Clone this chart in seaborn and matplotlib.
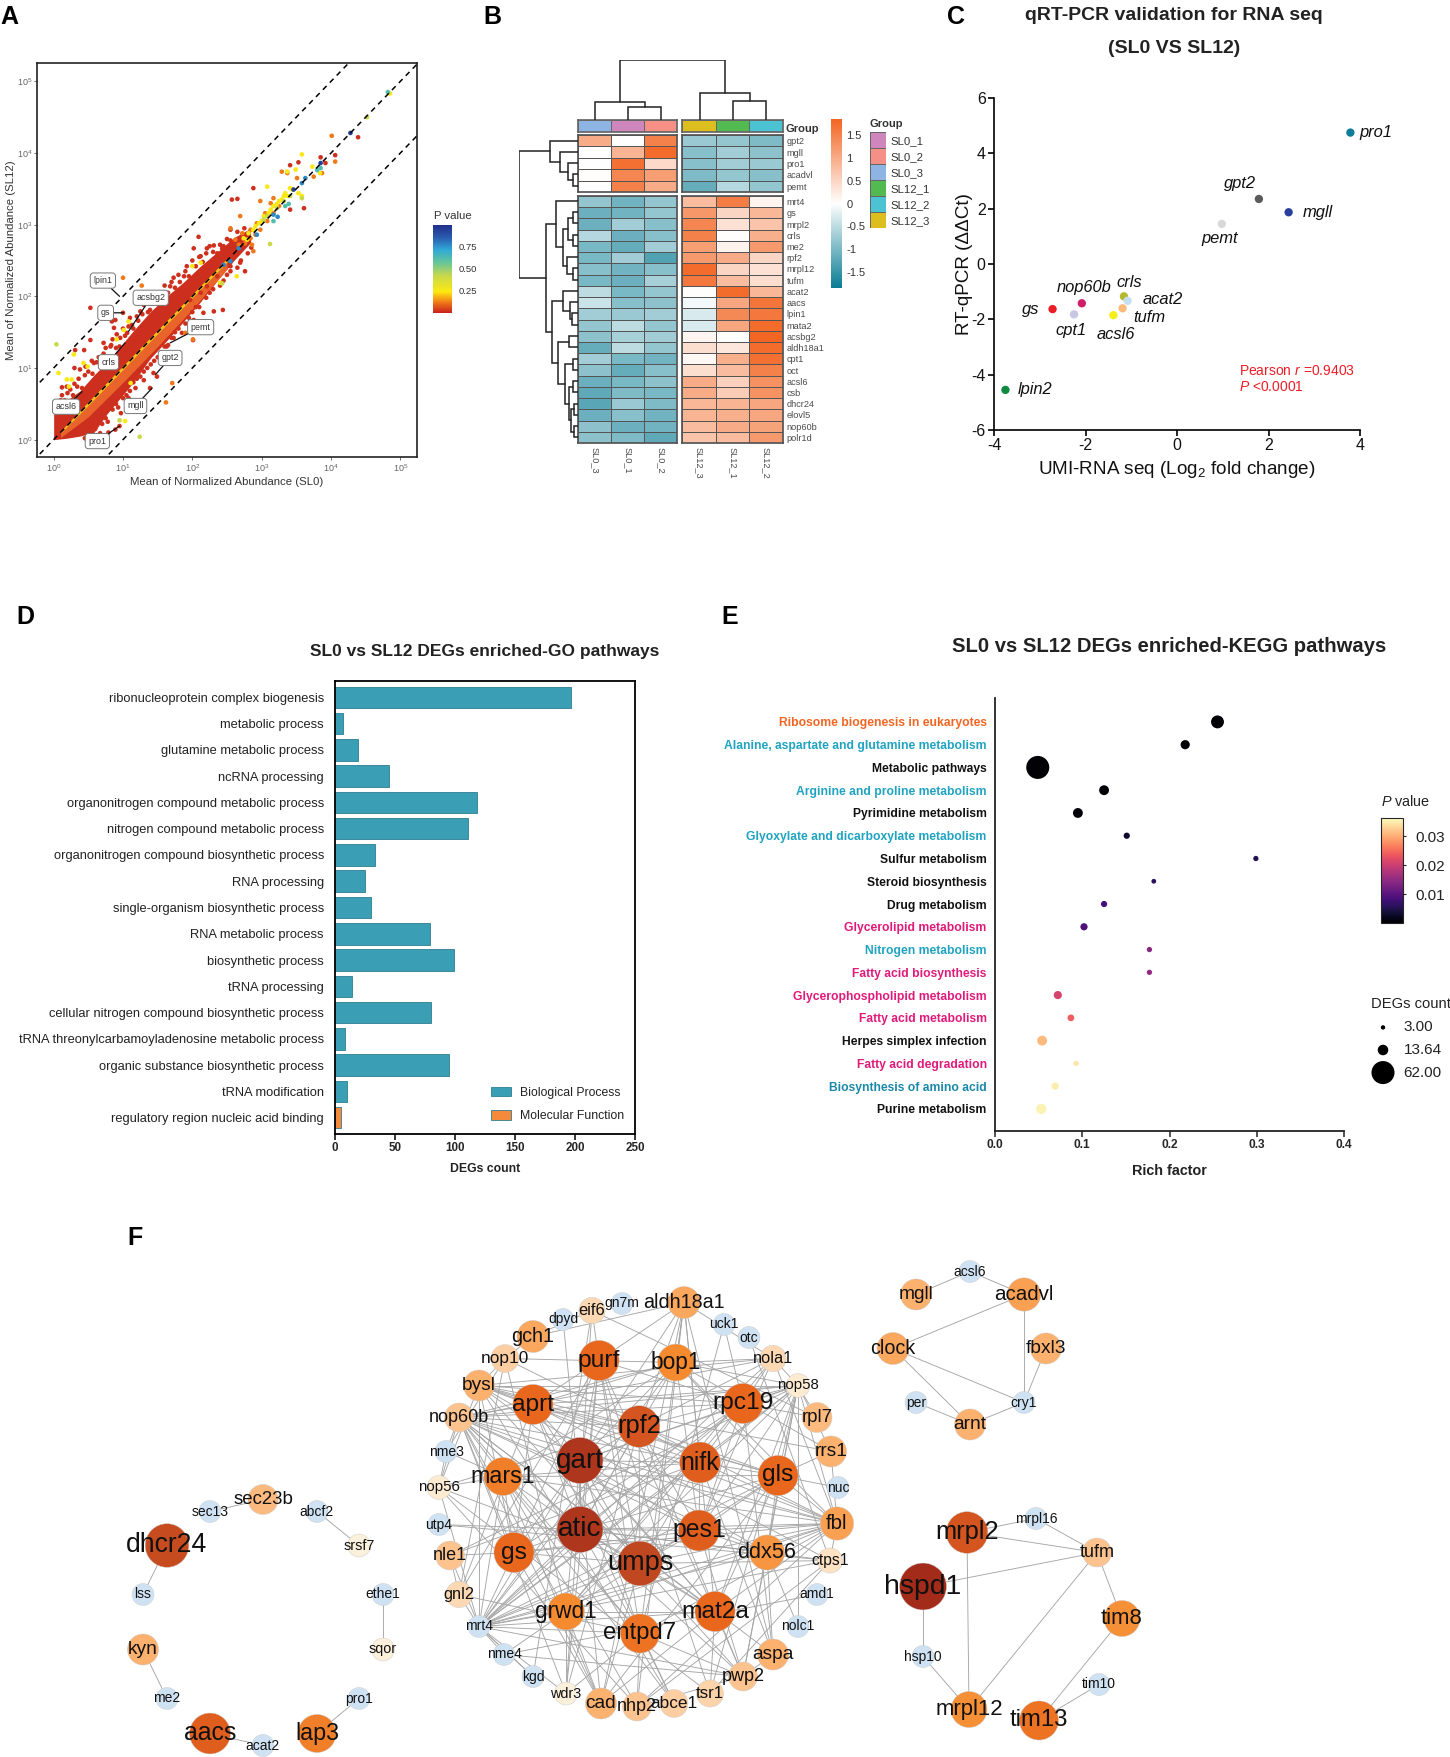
# 转录组多面板图 A-F
import numpy as np
import pandas as pd
import matplotlib
matplotlib.use('Agg')
import matplotlib.pyplot as plt
import seaborn as sns
from matplotlib.cm import ScalarMappable
from matplotlib.colors import LinearSegmentedColormap, ListedColormap, Normalize

sns.set_theme(style='white')
plt.rcParams['font.family'] = ['Liberation Sans', 'DejaVu Sans']
plt.rcParams['mathtext.fontset'] = 'custom'
plt.rcParams['mathtext.rm'] = 'Liberation Sans'
plt.rcParams['mathtext.it'] = 'Liberation Sans:italic'
plt.rcParams['axes.unicode_minus'] = False

W, H = 1450, 1757

# ---------- A: 丰度散点 (log10 值) ----------
red_lx = [.53, 1.00, .89, .84, .87, .91, .95, .82, .72, .53, .31, .44, .30, .38, .46, .19, .12, .34, .58, 1.06, 1.13,
          1.25, 1.39, 1.54, 1.59, 1.73, 1.68, 1.92, 2.02, 2.09, 2.12, 2.21, 2.31, 2.36, 2.43, 2.55, 2.88, 2.57, 2.65,
          3.41, 3.53, 3.85, 3.92, 4.06, 4.39, 3.61, 3.41, 2.16, 2.31, 2.44, 2.02, 2.01, 1.85, 1.73, 1.63, 1.49, 1.44,
          1.30, 1.18, 1.08, .97, .95, .67, .79, .89, 1.39, 2.60, 2.69, 2.76, 2.55, 2.36, 2.21, 2.12, 1.97,
          1.2, 1.35, 1.5, 1.6, 1.75, 1.95, 2.05, 2.25, 2.4, 2.5, 2.65, 2.8, .6, .75, .9, 1.05,
          .1, .2, .3, .45, .55, .65, .75, .85, 1.0, 1.1, 1.2, 1.3, 1.45, 1.6, 1.7, 1.8, 1.9, 2.0, 2.1, 2.25, 2.4, 2.5,
          2.65, 2.75,
          .05, .12, .16, .24, .28, .36, .41, .5, .56, .62, .68, .72, .8, .83, .9, .96, 1.03, 1.08, 1.15, 1.22, 1.28,
          1.36, 1.42, 1.5, 1.55, 1.65, 1.75, 1.82, 1.88, 1.95, 2.05, 2.15, 2.2, 2.3, 2.45, 2.55,
          .45, .55, .62, .7, .78, .85, .93, 1.0, 1.1, 1.15, 1.25, 1.3, 1.4, 1.45, 1.55, 1.65, 1.7, 1.8, 1.9, 2.0, 2.1,
          2.2, 2.3, 2.45, 2.55, 2.7, 2.85]
red_ly = [1.84, 1.77, 1.67, 1.65, 1.56, 1.47, 1.30, 1.30, 1.35, 1.39, 1.25, 1.25, 1.00, .98, 1.02, .74, .73, .74, 1.07,
          1.49, 1.60, 1.79, 1.81, 2.05, 2.05, 2.26, 2.14, 2.42, 2.67, 2.83, 2.56, 2.67, 2.71, 2.60, 2.67, 2.93, 3.51,
          3.35, 3.36, 3.83, 3.87, 3.94, 3.86, 3.97, 4.22, 3.23, 3.21, 1.77, 1.79, 1.81, 1.67, 1.39, 1.49, 1.42, 1.30,
          .88, .93, .83, .72, .58, .37, .19, .09, .10, .14, .72, 2.56, 2.47, 2.35, 2.42, 2.28, 2.14, 2.05, 1.95,
          .85, 1.0, 1.15, 1.3, 1.5, 1.7, 1.85, 2.05, 2.15, 2.3, 2.4, 2.6, .15, .3, .5, .62,
          .55, .65, .78, .9, 1.1, 1.15, 1.28, 1.4, 1.55, 1.7, 1.72, 1.88, 2.0, 2.15, 2.2, 2.3, 2.35, 2.5, 2.55, 2.7,
          2.72, 2.8, 2.9, 2.95,
          .5, .62, .55, .7, .62, .85, .72, .95, .92, 1.08, 1.02, 1.2, 1.15, 1.32, 1.28, 1.42, 1.45, 1.58, 1.55, 1.66,
          1.75, 1.78, 1.9, 1.9, 2.0, 2.05, 2.12, 2.2, 2.28, 2.28, 2.42, 2.48, 2.6, 2.62, 2.7, 2.78,
          .02, .12, .06, .22, .25, .42, .45, .58, .68, .8, .88, .95, 1.05, 1.1, 1.22, 1.32, 1.42, 1.55, 1.62, 1.78,
          1.85, 1.98, 2.1, 2.22, 2.35, 2.5, 2.68]
orange_lx = [1.0, 1.27, 4.01, 4.06, 1.71, 1.62, 2.01, 1.90, 2.98, 3.17, 2.69, 2.55, 2.88, 2.86, 3.75, 3.87, 3.51, 3.37,
             3.29, 2.67, 2.76, 2.84, 2.91, 2.98, 3.08, 3.17, 3.25, 3.13, 3.05, 2.93, 2.84, 2.72, 2.62]
orange_ly = [2.26, 2.15, 4.24, 3.88, .79, .52, 1.40, 1.49, 3.33, 3.37, 3.12, 2.95, 2.63, 2.72, 3.67, 3.72, 3.65, 3.72,
             3.74, 2.72, 2.74, 2.81, 2.86, 2.93, 3.05, 3.16, 3.26, 3.30, 3.16, 3.02, 2.93, 2.88, 2.79]
yellow_lx = [.19, .26, .07, .22, .43, .49, .91, 1.01, 1.08, 3.08, 3.58, 3.37, 3.49, 3.58, 3.53, 3.73, 3.84, 4.85, 2.12,
             2.40, 2.64, 2.00, 1.11, 1.03, .29, 2.74, 2.81, 2.88, 2.96, 3.03, 3.10, 3.17, 3.25, 3.32, 3.37, 3.44, 2.79,
             2.91, 3.0, 3.13, 3.22, 3.29, 3.34, 3.41]
yellow_ly = [.84, .84, .93, .74, 1.07, 1.02, 1.40, 1.53, 1.65, 3.53, 3.98, 3.74, 3.77, 3.40, 3.44, 3.81, 3.72, 4.83,
             2.47, 2.19, 2.28, 2.42, .79, .26, 1.19, 2.81, 2.88, 2.93, 3.02, 3.12, 3.16, 3.26, 3.33, 3.40, 3.40, 3.49,
             2.79, 2.98, 3.05, 3.21, 3.29, 3.35, 3.44, 3.51]
lime_lx = [.04, 1.24, .95, 4.52, 3.12, 2.43, 3.58, 3.03, 3.22, 3.08, 3.41, 3.32]
lime_ly = [1.33, .04, .27, 4.50, 2.73, 2.18, 3.37, 3.07, 3.23, 3.12, 3.40, 3.33]
teal_lx = [3.85, 3.80, 4.82, 3.17, 3.39, 3.34]
teal_ly = [3.79, 3.76, 4.85, 3.05, 3.29, 3.26]
blue_lx = [2.93, 3.23, 2.67, 3.58, 3.63, 3.17, 2.55, 2.45]
blue_ly = [2.86, 3.11, 2.67, 3.58, 3.65, 3.14, 2.49, 2.44]
navy_lx = [4.28, 3.46, 3.85]
navy_ly = [4.28, 3.49, 3.86]

# 密集区的上下包络
cloud_lx = [0, .19, .38, .58, .77, .96, 1.15, 1.39, 1.63, 1.875, 2.115, 2.36, 2.6, 2.84]
cloud_hi = [.42, .55, .68, .9, 1.08, 1.3, 1.52, 1.78, 2.0, 2.2, 2.42, 2.62, 2.82, 2.95]
cloud_lo = [0, .02, .05, .1, .36, .58, .8, 1.13, 1.38, 1.65, 1.92, 2.22, 2.5, 2.75]
band_lx = [.1, .5, 1.0, 1.5, 2.0, 2.5]
band_hi = [.1, .5, 1.0, 1.5, 2.0, 2.5]
band_lo = [.03, .32, .8, 1.3, 1.82, 2.38]
core_hi = [.12, .53, 1.03, 1.53, 2.03, 2.53]
core_lo = [.09, .48, .98, 1.48, 1.98, 2.48]

box_names = ['lpin1', 'gs', 'acsbg2', 'pemt', 'crls', 'gpt2', 'acsl6', 'mgll', 'pro1']
box_lx = [.71, .75, 1.40, 2.12, .79, 1.68, .18, 1.18, .63]
box_ly = [2.22, 1.77, 1.98, 1.57, 1.08, 1.14, .46, .47, -.02]
box_tx = [.95, 1.01, 1.08, 1.68, 1.03, 1.47, .41, 1.42, .95]
box_ty = [2.0, 1.77, 1.51, 1.35, 1.35, .91, .67, .72, .19]

# ---------- B: 热图 ----------
col_names = ['SL0_3', 'SL0_1', 'SL0_2', 'SL12_3', 'SL12_1', 'SL12_2']
up_genes = ['gpt2', 'mgll', 'pro1', 'acadvl', 'pemt']
up_vals = [[1.0, 0, 1.5, -.75, -.8, -.95],
           [0, .9, 1.75, -.9, -.7, -.85],
           [0, 1.7, .45, -.9, -.7, -.75],
           [.02, 1.45, 1.15, -.95, -.8, -.9],
           [0, 1.5, 1.0, -1.15, -.55, -.8]]
down_genes = ['mrt4', 'gs', 'mrpl2', 'crls', 'me2', 'rpf2', 'mrpl12', 'tufm', 'acat2', 'aacs', 'lpin1', 'mata2',
              'acsbg2', 'aldh18a1', 'cpt1', 'oct', 'acsl6', 'csb', 'dhcr24', 'elovl5', 'nop60b', 'polr1d']
down_vals = [[-.8, -1.05, -.8, .8, 1.55, .12],
             [-1.1, -1.05, -.8, 1.25, .5, .85],
             [-1.1, -.7, -.9, 1.45, .35, .7],
             [-.55, -1.1, -.9, 1.5, .02, .95],
             [-1.0, -1.15, -.7, 1.15, .15, 1.2],
             [-1.0, -.7, -1.3, 1.2, 1.0, .5],
             [-.9, -1.05, -.9, 1.75, .5, .35],
             [-1.0, -1.1, -.65, 1.6, .8, .4],
             [-.5, -1.0, -.8, .02, 1.75, .85],
             [-.4, -.9, -.85, -.1, 1.05, 1.65],
             [-.7, -.75, -.7, -.3, 1.4, 1.6],
             [-.8, -.5, -.8, -.3, 1.05, 1.75],
             [-.85, -.65, -.7, .12, 0, 1.85],
             [-1.15, -.5, -.8, .4, .3, 1.75],
             [-.7, -1.0, -1.05, .08, .95, 1.7],
             [-.85, -1.15, -.9, .4, .8, 1.5],
             [-1.1, -1.0, -.85, 1.0, .55, 1.3],
             [-1.2, -.95, -1.0, 1.0, .6, 1.3],
             [-1.25, -.75, -.95, .85, .9, 1.05],
             [-1.1, -.9, -1.05, .9, .95, 1.05],
             [-.85, -1.1, -1.05, .8, 1.0, 1.1],
             [-.85, -.95, -1.2, .7, .8, 1.2]]
group_names = ['SL0_1', 'SL0_2', 'SL0_3', 'SL12_1', 'SL12_2', 'SL12_3']
group_cols = ['#cf86bd', '#f68f86', '#8db4e2', '#52ba50', '#4cc3d3', '#dcbf1e']
# 聚类树: (高度, 左, 右)
col_tree = (60, (17.7, 'SL0_3', (13, 'SL0_1', 'SL0_2')),
            (26.7, 'SL12_3', (19.3, 'SL12_1', 'SL12_2')))
row_tree = (59,
            (28, 'gpt2', (18, 'mgll', (10, 'pro1', (5, 'acadvl', 'pemt')))),
            (32,
             (22, 'mrt4', (15, (10, (5, 'gs', 'mrpl2'), (5, 'crls', 'me2')),
                           (11, 'rpf2', (5, 'mrpl12', 'tufm')))),
             (26,
              (15, 'acat2', (8, 'aacs', (5.7, 'lpin1', 'mata2'))),
              (20, (9, 'acsbg2', 'aldh18a1'),
               (13, (5, 'cpt1', 'oct'),
                (9, (5, 'acsl6', 'csb'), (7, (4, 'dhcr24', 'elovl5'), (4, 'nop60b', 'polr1d'))))))))

# ---------- C: qPCR 验证 ----------
qpcr_genes = ['pro1', 'gpt2', 'mgll', 'pemt', 'crls', 'acat2', 'tufm', 'acsl6', 'nop60b', 'cpt1', 'gs', 'lpin2']
qpcr_x = [3.79, 1.79, 2.44, .98, -1.16, -1.08, -1.19, -1.39, -2.08, -2.25, -2.72, -3.75]
qpcr_y = [4.75, 2.35, 1.87, 1.45, -1.17, -1.33, -1.6, -1.85, -1.42, -1.82, -1.63, -4.55]
qpcr_cols = ['#0e7c9a', '#5a5a5a', '#2a3f9c', '#d9d9d9', '#b5b82e', '#c5dff2', '#fdbb7a', '#f5ee1a', '#d11c68',
             '#c9c5e4', '#ee1c25', '#0e8a3f']

# ---------- D: GO 条形图 ----------
go_terms = ['ribonucleoprotein complex biogenesis', 'metabolic process', 'glutamine metabolic process',
            'ncRNA processing', 'organonitrogen compound metabolic process', 'nitrogen compound metabolic process',
            'organonitrogen compound biosynthetic process', 'RNA processing',
            'single-organism biosynthetic process', 'RNA metabolic process', 'biosynthetic process',
            'tRNA processing', 'cellular nitrogen compound biosynthetic process',
            'tRNA threonylcarbamoyladenosine metabolic process', 'organic substance biosynthetic process',
            'tRNA modification', 'regulatory region nucleic acid binding']
go_counts = [197, 7, 19, 45, 118, 111, 33, 25, 30, 79, 99, 14, 80, 8, 95, 10, 5]
go_kind = ['Biological Process'] * 16 + ['Molecular Function']

# ---------- E: KEGG 气泡图 ----------
kegg_terms = ['Ribosome biogenesis in eukaryotes', 'Alanine, aspartate and glutamine metabolism',
              'Metabolic pathways', 'Arginine and proline metabolism', 'Pyrimidine metabolism',
              'Glyoxylate and dicarboxylate metabolism', 'Sulfur metabolism', 'Steroid biosynthesis',
              'Drug metabolism', 'Glycerolipid metabolism', 'Nitrogen metabolism', 'Fatty acid biosynthesis',
              'Glycerophospholipid metabolism', 'Fatty acid metabolism', 'Herpes simplex infection',
              'Fatty acid degradation', 'Biosynthesis of amino acid', 'Purine metabolism']
kegg_rich = [.255, .218, .049, .125, .095, .151, .299, .182, .125, .102, .177, .177, .072, .087, .054, .093, .069, .053]
kegg_count = [20, 10.5, 62, 12, 12, 5.3, 4, 3.4, 5.3, 6.8, 4, 4, 8.5, 6, 12, 4, 6.8, 13]
kegg_p = [.0001, .0002, .0003, .0004, .0005, .003, .005, .006, .008, .009, .014, .015, .021, .024, .031, .0345, .035, .0355]
kegg_cols = ['#f26522', '#1fa3c0', '#111111', '#1fa3c0', '#111111', '#1fa3c0', '#111111', '#111111', '#111111',
             '#e0197a', '#1fa3c0', '#e0197a', '#e0197a', '#e0197a', '#111111', '#e0197a', '#1a88a8', '#111111']
size_legend = [3.00, 13.64, 62.00]

# ---------- F: 互作网络 (版面坐标) ----------
main_names = ['nhp2', 'abce1', 'tsr1', 'pwp2', 'aspa', 'nolc1', 'amd1', 'ctps1', 'fbl', 'nuc', 'rrs1', 'rpl7', 'nop58',
              'nola1', 'otc', 'uck1', 'aldh18a1', 'gn7m', 'eif6', 'dpyd', 'gch1', 'nop10', 'bysl', 'nop60b', 'nme3',
              'nop56', 'utp4', 'nle1', 'gnl2', 'mrt4', 'nme4', 'kgd', 'wdr3', 'cad', 'purf', 'bop1', 'rpc19', 'aprt',
              'rpf2', 'gart', 'nifk', 'gls', 'mars1', 'atic', 'pes1', 'gs', 'ddx56', 'umps', 'grwd1', 'mat2a', 'entpd7']
main_x = [637, 674, 710, 743, 773, 798, 817, 830, 837, 838, 831, 817, 798, 773, 749, 724, 684, 622, 592, 563, 533, 505,
          479, 459, 446, 439, 439, 450, 459, 479, 504, 533, 566, 601, 599, 676, 743, 533, 639, 580, 700, 778, 503, 580,
          699, 514, 767, 640, 566, 715, 640]
main_y = [1705, 1702, 1692, 1675, 1653, 1625, 1593, 1559, 1522, 1486, 1450, 1416, 1384, 1357, 1336, 1323, 1301, 1302,
          1309, 1318, 1335, 1357, 1384, 1416, 1450, 1486, 1523, 1554, 1593, 1625, 1653, 1675, 1692, 1702, 1359, 1361,
          1402, 1403, 1425, 1459, 1461, 1474, 1475, 1528, 1529, 1551, 1551, 1562, 1610, 1610, 1632]
main_deg = [9.5, 8, 7, 9.5, 12.5, 1, 1, 4.5, 16, 1, 12.5, 11, 3, 6, 1, 1, 14, 1, 6, 1, 14, 8, 12.5, 9.5, 1, 3, 1, 9.5,
            6, 1, 1, 1, 2, 12.5, 28, 22, 28, 28, 31, 40, 29.5, 28, 24, 40, 29.5, 28, 19, 37, 22, 28, 26]
main_links = {
    'gart': 'atic rpf2 nifk umps bop1 aldh18a1 nop60b gs mrt4 fbl nop58 mat2a purf rpc19 pes1 grwd1 entpd7 bysl',
    'atic': 'purf aprt rpf2 gls gs umps pes1 mars1 fbl utp4 mat2a mrt4 entpd7 bop1 ctps1 ddx56 rpc19 nop60b',
    'umps': 'rpf2 purf aprt gls pes1 gs mrt4 cad mat2a ctps1 fbl nifk grwd1 nop56',
    'rpf2': 'nop60b nop58 nifk mrt4 pes1 gls aprt bysl nola1 pwp2 nop56 wdr3 aldh18a1',
    'nifk': 'rpc19 mars1 fbl nop58 bysl pes1 gls mrt4 nle1 aspa aldh18a1 nop60b',
    'pes1': 'fbl bop1 nop60b nola1 gs mrt4 pwp2 rpc19 ddx56 gls nop58',
    'gs': 'nop60b bysl mars1 aprt purf fbl mrt4 nle1 rpc19 cad',
    'aprt': 'purf nop58 bop1 gnl2 mat2a gls ctps1 abce1 nop60b',
    'purf': 'aldh18a1 mat2a rpc19 eif6 entpd7 wdr3 tsr1 gnl2',
    'bop1': 'aldh18a1 nop10 nop58 nola1 mrt4 gls fbl rrs1 mars1 nop60b',
    'rpc19': 'mrt4 nop60b nop58 nola1 bysl uck1 grwd1 rpl7 aspa',
    'gls': 'mrt4 fbl rrs1 nop58 ddx56 cad mat2a bysl mars1 nuc',
    'mars1': 'nop60b nme3 mrt4 fbl cad nhp2 entpd7 nop56 abce1',
    'mat2a': 'fbl pwp2 mrt4 cad tsr1 nop60b aldh18a1 nop58 grwd1',
    'entpd7': 'mrt4 fbl nop60b gnl2 abce1 wdr3 nhp2 pwp2 aldh18a1',
    'grwd1': 'nop60b fbl mrt4 nop58 wdr3 cad nme4 nop10 nola1',
    'ddx56': 'nop58 mrt4 fbl nop60b nolc1 pwp2 bysl aspa',
    'mrt4': 'nop58 fbl nle1 nop56 nme4 ctps1 kgd wdr3 nola1 pwp2 bysl',
    'fbl': 'nop60b bysl nop58 nola1 nhp2 ctps1 rrs1 nop10',
    'nop60b': 'nop58 nola1 nme3 nop56 pwp2 wdr3 aspa cad',
    'bysl': 'nola1 nop58 nop10 nop56 pwp2 abce1 rrs1',
    'aldh18a1': 'gch1 aspa cad nola1 nhp2',
    'nop58': 'nola1 pwp2 rpl7 tsr1 rrs1 nle1 nolc1',
    'nme3': 'nop56 nop10',
    'gnl2': 'nle1 mrt4 nop10',
    'eif6': 'gch1 rpl7 wdr3 kgd',
    'dpyd': 'cad',
    'uck1': 'entpd7',
    'otc': 'ctps1',
    'gch1': 'nop10',
    'utp4': 'ctps1',
    'kgd': 'mrt4',
    'nme4': 'pwp2',
    'nhp2': 'pwp2 ctps1 nop56',
    'tsr1': 'ctps1 nop56',
    'amd1': 'nme4',
    'aspa': 'pwp2',
}

ring_names = ['sec23b', 'abcf2', 'srsf7', 'ethe1', 'sqor', 'pro1', 'lap3', 'acat2', 'aacs', 'me2', 'kyn', 'lss',
              'dhcr24', 'sec13']
ring_x = [263, 317, 359, 383, 383, 359, 317, 263, 210, 167, 143, 143, 167, 210]
ring_y = [1498, 1510, 1544, 1593, 1648, 1697, 1732, 1744, 1732, 1697, 1648, 1593, 1544, 1510]
ring_deg = [11, 1, 2, 1, 2, 1, 24, 1, 29.5, 1, 12.5, 1, 35, 1]
ring_links = {'sec23b': 'sec13', 'abcf2': 'srsf7', 'ethe1': 'sqor', 'pro1': 'lap3', 'acat2': 'aacs', 'me2': 'kyn',
              'lss': 'dhcr24'}

clock_names = ['mgll', 'acsl6', 'acadvl', 'clock', 'fbxl3', 'per', 'cry1', 'arnt']
clock_x = [916, 970, 1024, 893, 1046, 916, 1024, 970]
clock_y = [1293, 1270, 1293, 1347, 1347, 1401, 1401, 1423]
clock_deg = [12.5, 1, 16, 14, 12.5, 1, 1, 12.5]
clock_links = {'acsl6': 'mgll acadvl', 'acadvl': 'clock cry1', 'clock': 'cry1 arnt', 'arnt': 'per cry1',
               'fbxl3': 'cry1'}

mito_names = ['mrpl2', 'mrpl16', 'tufm', 'hspd1', 'tim8', 'hsp10', 'tim10', 'mrpl12', 'tim13']
mito_x = [967, 1036, 1097, 923, 1122, 923, 1099, 969, 1039]
mito_y = [1531, 1517, 1551, 1585, 1617, 1655, 1683, 1708, 1719]
mito_deg = [31, 1, 9.5, 42, 20.5, 1, 1, 20.5, 26]
mito_links = {'mrpl2': 'mrpl16 tufm mrpl12', 'tufm': 'mrpl16 hspd1 tim8 mrpl12', 'hsp10': 'hspd1 mrpl12',
              'tim13': 'tim8 tim10'}


def axpx(x0, y0, x1, y1, **kw):
    # 用像素坐标定位子图
    return fig.add_axes([x0 / W, 1 - y1 / H, (x1 - x0) / W, (y1 - y0) / H], **kw)


def ptext(x, y, s, **kw):
    fig.text(x / W, 1 - y / H, s, **kw)


def draw_tree(ax, node, pos, vertical=True, color='#222222', lw=1.1):
    # 递归画聚类树, 返回 (位置, 高度)
    if isinstance(node, str):
        return pos[node], 0
    h, left, right = node
    p0, h0 = draw_tree(ax, left, pos, vertical, color, lw)
    p1, h1 = draw_tree(ax, right, pos, vertical, color, lw)
    a, b = [p0, p0, p1, p1], [h0, h, h, h1]
    if vertical:
        ax.plot(a, b, color=color, lw=lw, solid_joinstyle='miter')
    else:
        ax.plot(b, a, color=color, lw=lw, solid_joinstyle='miter')
    return (p0 + p1) / 2, h


fig = plt.figure(figsize=(W / 100, H / 100), dpi=100, facecolor='white')

for lab, x, y in [('A', 0, 24), ('B', 483, 24), ('C', 947, 24), ('D', 16, 624), ('E', 721, 624), ('F', 127, 1245)]:
    ptext(x, y, lab, fontsize=18, fontweight='bold', color='black', va='baseline')

# ---- A ----
pval_cmap = LinearSegmentedColormap.from_list('pval', [(0, '#c8201e'), (.12, '#f07a18'), (.24, '#fde910'),
                                                       (.42, '#c9d94a'), (.58, '#63c49b'), (.72, '#2fa9d6'),
                                                       (.85, '#2a5fb0'), (1, '#1f2f8c')])
ax = axpx(37, 63, 417, 457)
pts = pd.DataFrame({
    'lx': red_lx + orange_lx + yellow_lx + lime_lx + teal_lx + blue_lx + navy_lx,
    'ly': red_ly + orange_ly + yellow_ly + lime_ly + teal_ly + blue_ly + navy_ly,
    'p': [.02] * len(red_lx) + [.12] * len(orange_lx) + [.25] * len(yellow_lx) + [.42] * len(lime_lx)
         + [.62] * len(teal_lx) + [.78] * len(blue_lx) + [.95] * len(navy_lx)})
pts['x'] = 10.0 ** pts['lx']
pts['y'] = 10.0 ** pts['ly']
ax.set_xscale('log')
ax.set_yscale('log')
ax.fill_between(10.0 ** np.array(cloud_lx), 10.0 ** np.array(cloud_lo), 10.0 ** np.array(cloud_hi),
                color='#cd2f1f', lw=0, zorder=1)
ax.fill_between(10.0 ** np.array(band_lx), 10.0 ** np.array(band_lo), 10.0 ** np.array(band_hi),
                color='#e9642a', lw=0, zorder=1.2)
ax.fill_between(10.0 ** np.array(band_lx), 10.0 ** np.array(core_lo), 10.0 ** np.array(core_hi),
                color='#f3c21c', lw=0, zorder=1.4)
sns.scatterplot(data=pts, x='x', y='y', hue='p', hue_norm=(0, 1), palette=pval_cmap, s=11, linewidth=0, legend=False,
                ax=ax, zorder=2)
guide = 10.0 ** np.array([-.3, 5.4])
for k in [10, 1, .1]:
    ax.plot(guide, guide * k, color='black', lw=1.1, dashes=(3.5, 3), zorder=3)
ax.set_xlim(10 ** -.24, 10 ** 5.24)
ax.set_ylim(10 ** -.242, 10 ** 5.256)
ticks = [1, 10, 100, 1000, 10000, 100000]
ax.set_xticks(ticks)
ax.set_yticks(ticks)
ax.minorticks_off()
ax.tick_params(length=2, width=.6, color='#555555', labelcolor='#666666', labelsize=6.5, pad=1.5, bottom=True, left=True)
ax.set_xlabel('Mean of Normalized Abundance (SL0)', fontsize=8.2, color='#333333', labelpad=2.5)
ax.set_ylabel('Mean of Normalized Abundance (SL12)', fontsize=8.2, color='#333333', labelpad=.5)
for s in ax.spines.values():
    s.set_color('#222222')
    s.set_linewidth(1.2)
for n, lx, ly, tx, ty in zip(box_names, box_lx, box_ly, box_tx, box_ty):
    ax.annotate(n, xy=(10 ** tx, 10 ** ty), xytext=(10 ** lx, 10 ** ly), fontsize=6.4, color='#333333', ha='center',
                va='center', zorder=5,
                bbox=dict(boxstyle='round,pad=0.35', fc='white', ec='#777777', lw=.7),
                arrowprops=dict(arrowstyle='-', color='#111111', lw=.9, shrinkA=0, shrinkB=0))
cax = axpx(433, 225, 452, 313)
cb = fig.colorbar(ScalarMappable(Normalize(0, 1), pval_cmap), cax=cax, ticks=[.25, .5, .75])
cb.ax.set_yticklabels(['0.25', '0.50', '0.75'], fontsize=6.8, color='#333333')
cb.ax.tick_params(length=0, pad=5)
cb.outline.set_visible(False)
ptext(434, 219, 'P value', fontsize=8.2, color='#333333')

# ---- B ----
heat_cmap = LinearSegmentedColormap.from_list('heat', ['#0a7c94', '#ffffff', '#f26522'])
col_x = [(578, 677), (682, 783)]
row_y = [(135, 192), (196, 443)]
code = {n: i for i, n in enumerate(group_names)}
gcmap = ListedColormap(group_cols)
vals = [np.array(up_vals), np.array(down_vals)]
genes = [up_genes, down_genes]
for j, (x0, x1) in enumerate(col_x):
    cols = col_names[j * 3:j * 3 + 3]
    ann = axpx(x0, 120, x1, 132)
    sns.heatmap([[code[c] for c in cols]], ax=ann, cmap=gcmap, vmin=-.5, vmax=5.5, cbar=False, xticklabels=False,
                yticklabels=False, linewidths=.5, linecolor='#666666')
    for s in ann.spines.values():
        s.set_visible(True)
        s.set_color('#666666')
    for i, (y0, y1) in enumerate(row_y):
        hax = axpx(x0, y0, x1, y1)
        sns.heatmap(pd.DataFrame(vals[i][:, j * 3:j * 3 + 3], index=genes[i], columns=cols), ax=hax, cmap=heat_cmap,
                    vmin=-1.84, vmax=1.84, cbar=False, linewidths=.7, linecolor='#555555',
                    xticklabels=(i == 1), yticklabels=(j == 1))
        for s in hax.spines.values():
            s.set_visible(True)
            s.set_color('#555555')
        hax.set_xlabel('')
        hax.set_ylabel('')
        if j == 1:
            hax.yaxis.tick_right()
            hax.tick_params(axis='y', length=0, pad=2.5, labelsize=6.6, labelcolor='#4a4a4a', labelrotation=0)
        if i == 1:
            hax.tick_params(axis='x', length=0, pad=3, labelsize=6.6, labelcolor='#4a4a4a', labelrotation=270)
ptext(786, 132, 'Group', fontsize=8, fontweight='bold', color='#333333')
# 聚类树
dax = axpx(578, 60, 783, 120)
leaf = {c: i + .5 + (.15 if i >= 3 else 0) for i, c in enumerate(col_names)}
draw_tree(dax, col_tree, leaf, True)
dax.set_xlim(0, 6.15)
dax.set_ylim(0, 60)
dax.axis('off')
rax = axpx(519, 135, 578, 443)
row_all = up_genes + down_genes
rleaf = {g: i + .5 + (.35 if i >= 5 else 0) for i, g in enumerate(row_all)}
draw_tree(rax, row_tree, rleaf, False)
rax.set_xlim(59, 0)
rax.set_ylim(27.35, 0)
rax.axis('off')
cax = axpx(831, 119, 842, 288)
cb = fig.colorbar(ScalarMappable(Normalize(-1.84, 1.84), heat_cmap), cax=cax, ticks=[-1.5, -1, -.5, 0, .5, 1, 1.5])
cb.ax.set_yticklabels(['-1.5', '-1', '-0.5', '0', '0.5', '1', '1.5'], fontsize=8, color='#333333')
cb.ax.tick_params(length=0, pad=3)
cb.outline.set_visible(False)
lax = axpx(870, 132, 886, 228)
sns.heatmap(pd.DataFrame({'g': range(6)}, index=group_names), ax=lax, cmap=gcmap, vmin=-.5, vmax=5.5, cbar=False,
            linewidths=.7, linecolor='#666666', xticklabels=False, yticklabels=True)
lax.yaxis.tick_right()
lax.tick_params(axis='y', length=0, pad=3, labelsize=8.2, labelcolor='#333333', labelrotation=0)
lax.set_ylabel('')
ptext(870, 127, 'Group', fontsize=8, fontweight='bold', color='#333333')

# ---- C ----
ax = axpx(994, 98, 1360, 430)
qdf = pd.DataFrame({'gene': qpcr_genes, 'x': qpcr_x, 'y': qpcr_y})
sns.scatterplot(data=qdf, x='x', y='y', hue='gene', palette=dict(zip(qpcr_genes, qpcr_cols)), s=36, linewidth=0,
                legend=False, ax=ax, clip_on=False)
ax.set_xlim(-4, 4)
ax.set_ylim(-6, 6)
ax.set_xticks([-4, -2, 0, 2, 4])
ax.set_yticks([-6, -4, -2, 0, 2, 4, 6])
sns.despine(ax=ax)
for s in ['left', 'bottom']:
    ax.spines[s].set_linewidth(1.2)
    ax.spines[s].set_color('black')
ax.tick_params(length=4, width=1.2, color='black', labelsize=11.5, labelcolor='#111111', pad=2, bottom=True, left=True)
ax.set_xlabel('UMI-RNA seq (Log$_2$ fold change)', fontsize=13.6, color='#111111', labelpad=4)
ax.set_ylabel('RT-qPCR (ΔΔCt)', fontsize=13.6, color='#111111', labelpad=-1)
gene_labels = [('pro1', 3.99, 4.75, 'left'), ('gpt2', 1.38, 2.9, 'center'), ('mgll', 2.74, 1.87, 'left'),
               ('pemt', .93, .93, 'center'), ('crls', -1.04, -.67, 'center'), ('acat2', -.76, -1.3, 'left'),
               ('tufm', -.95, -1.94, 'left'), ('acsl6', -1.34, -2.54, 'center'), ('cpt1', -2.31, -2.42, 'center'),
               ('nop60b', -2.04, -.84, 'center'), ('gs', -3.19, -1.66, 'center'), ('lpin2', -3.48, -4.52, 'left')]
for g, x, y, ha in gene_labels:
    ax.text(x, y, g, fontsize=11.9, style='italic', ha=ha, va='center', color='#111111', clip_on=False)
ax.text(1.36, -3.85, 'Pearson $\\mathit{r}$ =0.9403', fontsize=10, color='#ee1c25', va='center')
ax.text(1.36, -4.46, '$\\mathit{P}$ <0.0001', fontsize=10, color='#ee1c25', va='center')
ptext(1174, 20, 'qRT-PCR validation for RNA seq', fontsize=14, fontweight='bold', ha='center', color='#222222')
ptext(1174, 53, '(SL0 VS SL12)', fontsize=14, fontweight='bold', ha='center', color='#222222')

# ---- D ----
ax = axpx(335, 681, 635, 1134)
go = pd.DataFrame({'term': go_terms, 'count': go_counts, 'kind': go_kind})
sns.barplot(data=go, x='count', y='term', hue='kind', dodge=False, width=.82, ax=ax, saturation=1,
            palette={'Biological Process': '#3a9fb5', 'Molecular Function': '#f58a3c'}, edgecolor='#2d7f92', linewidth=.6)
ax.set_xlim(0, 250)
ax.set_ylim(16.62, -.62)
ax.set_xticks(range(0, 251, 50))
ax.tick_params(axis='y', length=0, pad=8, labelsize=9.3, labelcolor='#222222')
ax.tick_params(axis='x', length=4, width=1.1, color='black', pad=2, labelsize=8.4, bottom=True)
for t in ax.get_xticklabels():
    t.set_fontweight('bold')
ax.set_ylabel('')
ax.set_xlabel('DEGs count', fontsize=8.8, fontweight='bold', color='#222222', labelpad=6)
for s in ax.spines.values():
    s.set_visible(True)
    s.set_color('black')
    s.set_linewidth(1.3)
ax.legend(title=None, frameon=False, loc='lower left', bbox_to_anchor=(.505, .015), fontsize=8.8, handlelength=1.6,
          handleheight=.8, labelspacing=.95, handletextpad=.7, borderaxespad=0, labelcolor='#222222')
ptext(485, 656, 'SL0 vs SL12 DEGs enriched-GO pathways', fontsize=12.5, fontweight='bold', ha='center', color='#222222')

# ---- E ----
ax = axpx(995, 698, 1344, 1131)
kegg = pd.DataFrame({'term': kegg_terms, 'rich': kegg_rich, 'n': kegg_count, 'p': kegg_p})
kegg_norm = (0, .0364)
sns.scatterplot(data=kegg, x='rich', y='term', hue='p', hue_norm=kegg_norm, palette='magma', size='n', sizes=(10, 275),
                size_norm=(3, 62), linewidth=0, legend=False, ax=ax, clip_on=False)
ax.set_xlim(0, .4)
ax.set_ylim(17.97, -1.05)
ax.set_xticks([0, .1, .2, .3, .4])
ax.set_xticklabels(['0.0', '0.1', '0.2', '0.3', '0.4'], fontweight='bold')
sns.despine(ax=ax)
for s in ['left', 'bottom']:
    ax.spines[s].set_color('#222222')
    ax.spines[s].set_linewidth(1.3)
ax.tick_params(axis='x', length=4, width=1.1, color='#222222', pad=2, labelsize=8.6, bottom=True)
ax.tick_params(axis='y', length=0, pad=6, labelsize=8.7)
for t, c in zip(ax.get_yticklabels(), kegg_cols):
    t.set_color(c)
    t.set_fontweight('bold')
ax.set_ylabel('')
ax.set_xlabel('Rich factor', fontsize=10.4, fontweight='bold', color='#222222', labelpad=9)
ptext(1169, 652, 'SL0 vs SL12 DEGs enriched-KEGG pathways', fontsize=14.6, fontweight='bold', ha='center', color='#222222')
cax = axpx(1381, 818, 1403, 923)
cb = fig.colorbar(ScalarMappable(Normalize(*kegg_norm), 'magma'), cax=cax, ticks=[.01, .02, .03])
cb.ax.set_yticklabels(['0.01', '0.02', '0.03'], fontsize=11, color='#222222')
cb.ax.tick_params(length=2, width=.8, pad=7)
cb.outline.set_linewidth(.8)
ptext(1381, 806, '$\\mathit{P}$ value', fontsize=10.4, color='#222222')
ptext(1371, 1008, 'DEGs count', fontsize=10.6, color='#222222')
sax = axpx(1371, 1015, 1395, 1085)
sns.scatterplot(x=[0, 0, 0], y=[0, 1, 2], size=size_legend, sizes=(10, 275), size_norm=(3, 62), color='black',
                linewidth=0, legend=False, ax=sax, clip_on=False)
sax.set_xlim(-1, 1)
sax.set_ylim(2.55, -.55)
sax.axis('off')
for i, v in enumerate(size_legend):
    sax.text(1.7, i, f'{v:.2f}', fontsize=11, va='center', color='#222222', clip_on=False)

# ---- F ----
node_cmap = LinearSegmentedColormap.from_list('node', [(0, '#cfe2f4'), (1 / 41, '#fdf0da'), (7 / 41, '#fdcda0'),
                                                       (13 / 41, '#fba75e'), (21 / 41, '#f58a2e'), (27 / 41, '#e9661d'),
                                                       (30 / 41, '#d4551f'), (36 / 41, '#bf4820'), (1, '#a32b1a')])
nax = axpx(0, 1240, W, H)
nax.set_xlim(0, W)
nax.set_ylim(H - 1.5, 1240 - 1.5)
nax.axis('off')
networks = [(main_names, main_x, main_y, main_deg, main_links),
            (ring_names, ring_x, ring_y, ring_deg, ring_links),
            (clock_names, clock_x, clock_y, clock_deg, clock_links),
            (mito_names, mito_x, mito_y, mito_deg, mito_links)]
for names, xs, ys, degs, links in networks:
    pos = dict(zip(names, zip(xs, ys)))
    for a, others in links.items():
        for b in others.split():
            nax.plot([pos[a][0], pos[b][0]], [pos[a][1], pos[b][1]], color='#a6a6a6', lw=.65, zorder=1)
    nd = pd.DataFrame({'x': xs, 'y': ys, 'deg': degs})
    sns.scatterplot(data=nd, x='x', y='y', hue='deg', hue_norm=(1, 42), palette=node_cmap, size='deg', sizes=(251, 1140),
                    size_norm=(1, 42), linewidth=.3, edgecolor='#c9c9c9', legend=False, ax=nax, zorder=2, clip_on=False)
    for n, x, y, dg in zip(names, xs, ys, degs):
        dia = np.sqrt(251 + (dg - 1) / 41 * (1140 - 251)) / .72
        nax.text(x, y, n, fontsize=10 + (dia - 22) * .42, ha='center', va='center', color='#111111', zorder=3,
                 clip_on=False)
nax.set_xlabel('')
nax.set_ylabel('')

fig.savefig('out.png', dpi=100)
